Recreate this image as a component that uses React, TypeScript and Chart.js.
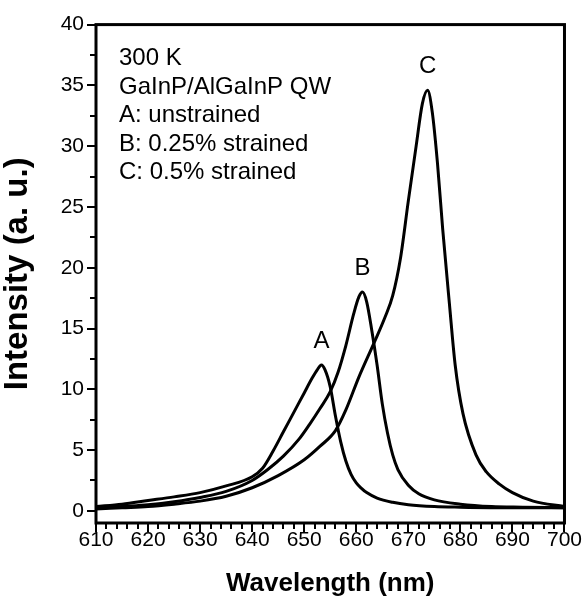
import React, { useEffect, useRef } from 'react';
import { Chart, registerables } from 'chart.js';

Chart.register(...registerables);

// ---- Data ----
const WL_A = [610, 615, 620, 625, 630, 635, 640, 642, 644, 646, 648, 650, 651.5, 652.5, 653.3, 654, 655, 656, 657, 658, 659, 660, 661, 662, 664, 667, 670, 675, 680, 690, 700];
const INT_A = [0.35, 0.55, 0.85, 1.15, 1.5, 2.05, 2.8, 3.5, 4.9, 6.5, 8.1, 9.7, 10.9, 11.6, 12.0, 11.6, 10.2, 7.8, 5.7, 4.1, 3.0, 2.3, 1.85, 1.5, 1.05, 0.7, 0.5, 0.35, 0.3, 0.25, 0.25];

const WL_B = [610, 615, 620, 625, 630, 635, 640, 643, 646, 649, 651, 653, 655, 656.5, 658, 659.5, 660.5, 661.2, 662, 663, 664, 665, 666, 667, 668, 670, 672, 675, 680, 686, 692, 700];
const INT_B = [0.2, 0.35, 0.5, 0.75, 1.1, 1.6, 2.5, 3.4, 4.5, 5.9, 7.1, 8.4, 9.8, 11.4, 13.6, 16.2, 17.6, 18.0, 17.2, 14.8, 12.0, 8.8, 6.4, 4.6, 3.4, 2.1, 1.4, 0.9, 0.55, 0.35, 0.3, 0.25];

const WL_C = [610, 615, 620, 625, 630, 635, 640, 645, 650, 653, 656, 658, 660.5, 663.5, 665.5, 667, 668.5, 670, 671.5, 672.7, 673.7, 674.6, 675.6, 676.6, 677.9, 679, 680.5, 683, 685, 687.5, 690, 694, 700];
const INT_C = [0.15, 0.25, 0.35, 0.55, 0.8, 1.2, 1.9, 2.9, 4.2, 5.3, 6.6, 8.3, 11.0, 13.9, 15.9, 17.7, 20.8, 25.5, 30.0, 33.5, 34.6, 32.8, 28.6, 23.2, 17.0, 12.0, 8.0, 4.6, 3.2, 2.2, 1.5, 0.8, 0.35];

const SERIES_LABELS = ['A', 'B', 'C'];
const INFO_LINES = ['300 K', 'GaInP/AlGaInP QW', 'A: unstrained', 'B: 0.25% strained', 'C: 0.5% strained'];

const X_MIN = 610;
const X_MAX = 700;
const Y_MIN = -1;
const Y_MAX = 40;
const X_TICKS = [610, 620, 630, 640, 650, 660, 670, 680, 690, 700];
const Y_TICKS = [0, 5, 10, 15, 20, 25, 30, 35, 40];
const X_MINOR_STEP = 2;
const Y_MINOR_STEP = 2.5;

const FONT = 'Arial, "Liberation Sans", Helvetica, sans-serif';

const toPoints = (xs: number[], ys: number[]) => xs.map((x, i) => ({ x, y: ys[i] }));

const decorPlugin = {
  id: 'decor',
  afterDraw(chart: any) {
    const { ctx, chartArea: a, scales } = chart;
    const x = scales.x;
    const y = scales.y;
    ctx.save();
    ctx.strokeStyle = '#000';
    ctx.fillStyle = '#000';

    // tick marks (outward)
    ctx.lineWidth = 2;
    ctx.beginPath();
    for (let v = X_MIN; v <= X_MAX + 1e-6; v += X_MINOR_STEP) {
      const px = Math.round(x.getPixelForValue(v));
      const major = X_TICKS.some((t) => Math.abs(t - v) < 1e-6);
      ctx.moveTo(px, a.bottom);
      ctx.lineTo(px, a.bottom + (major ? 9 : 6));
    }
    for (let v = 0; v <= Y_MAX + 1e-6; v += Y_MINOR_STEP) {
      const py = Math.round(y.getPixelForValue(v));
      const major = Y_TICKS.some((t) => Math.abs(t - v) < 1e-6);
      ctx.moveTo(a.left, py);
      ctx.lineTo(a.left - (major ? 9 : 6), py);
    }
    ctx.stroke();

    // frame
    ctx.lineWidth = 3;
    ctx.strokeRect(a.left, a.top, a.right - a.left, a.bottom - a.top);

    // info text block
    ctx.font = `24px ${FONT}`;
    ctx.textAlign = 'left';
    ctx.textBaseline = 'middle';
    INFO_LINES.forEach((t, i) => {
      ctx.fillText(t, a.left + 23, a.top + 34 + i * 28.5);
    });

    // peak labels
    ctx.textAlign = 'center';
    chart.data.datasets.forEach((ds: any, i: number) => {
      let best = ds.data[0];
      ds.data.forEach((p: any) => { if (p.y > best.y) best = p; });
      const px = x.getPixelForValue(best.x);
      const py = y.getPixelForValue(best.y);
      ctx.fillText(SERIES_LABELS[i], px, py - 24);
    });
    ctx.restore();
  },
};

export default function App() {
  const ref = useRef<HTMLCanvasElement>(null);
  useEffect(() => {
    const line = (data: { x: number; y: number }[], label: string) => ({
      label,
      data,
      borderColor: '#000',
      backgroundColor: '#000',
      borderWidth: 3,
      pointRadius: 0,
      fill: false,
      cubicInterpolationMode: 'monotone' as const,
    });
    const chart = new Chart(ref.current!, {
      type: 'line',
      data: {
        datasets: [
          line(toPoints(WL_A, INT_A), SERIES_LABELS[0]),
          line(toPoints(WL_B, INT_B), SERIES_LABELS[1]),
          line(toPoints(WL_C, INT_C), SERIES_LABELS[2]),
        ],
      },
      options: {
        animation: false,
        responsive: false,
        devicePixelRatio: 1,
        layout: { padding: { top: 21, right: 21, bottom: 0, left: 0 } },
        plugins: { legend: { display: false }, tooltip: { enabled: false } },
        scales: {
          x: {
            type: 'linear',
            min: X_MIN,
            max: X_MAX,
            afterBuildTicks: (s: any) => { s.ticks = X_TICKS.map((v) => ({ value: v })); },
            afterFit: (s: any) => { s.height = 80; },
            ticks: { font: { family: FONT, size: 21 }, color: '#000', padding: 5, maxRotation: 0, autoSkip: false },
            grid: { display: false, drawTicks: false },
            border: { display: false },
            title: {
              display: true,
              text: 'Wavelength (nm)',
              color: '#000',
              font: { family: FONT, size: 26, weight: 'bold', lineHeight: 1 },
              padding: { top: 0, bottom: 6 },
            },
          },
          y: {
            type: 'linear',
            min: Y_MIN,
            max: Y_MAX,
            afterBuildTicks: (s: any) => { s.ticks = Y_TICKS.map((v) => ({ value: v })); },
            afterFit: (s: any) => { s.width = 96; },
            ticks: { font: { family: FONT, size: 21 }, color: '#000', padding: 12 },
            grid: { display: false, drawTicks: false },
            border: { display: false },
            title: {
              display: true,
              text: 'Intensity (a. u.)',
              color: '#000',
              font: { family: FONT, size: 33, weight: 'bold', lineHeight: 1 },
              padding: { top: 1, bottom: 0 },
            },
          },
        },
      },
      plugins: [decorPlugin],
    } as any);
    return () => chart.destroy();
  }, []);
  return (
    <div style={{ position: 'fixed', left: 0, top: 0, width: 587, height: 603, background: '#fff' }}>
      <canvas ref={ref} width={587} height={603} style={{ display: 'block' }} />
    </div>
  );
}
